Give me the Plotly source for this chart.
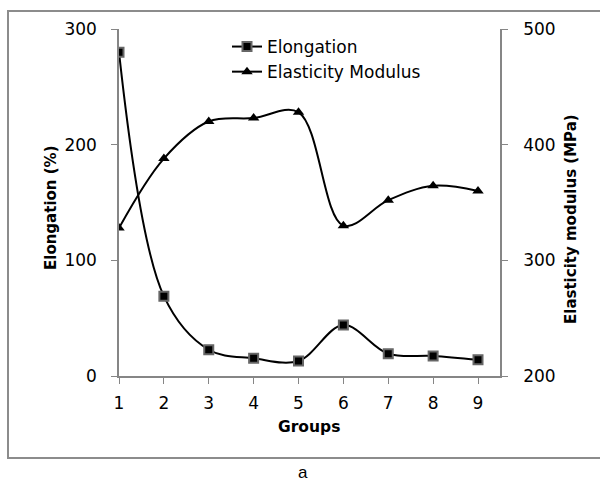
import plotly.graph_objects as go

groups = [1, 2, 3, 4, 5, 6, 7, 8, 9]
elongation = [280, 69, 22.7, 15.3, 13, 44, 19.3, 17.3, 14]
modulus = [328, 388, 420, 423, 428, 330, 352, 364.5, 360]
y1_ticks = [0, 100, 200, 300]
y2_ticks = [200, 300, 400, 500]

FONT = "DejaVu Sans"
AX = "#868686"

fig = go.Figure()
fig.add_trace(go.Scatter(
    x=groups, y=elongation, name="Elongation", mode="lines+markers",
    line=dict(color="black", width=2, shape="spline", smoothing=1),
    marker=dict(symbol="square", size=9, color="black",
                line=dict(color="#666666", width=2)),
    legendgroup="a"))
fig.add_trace(go.Scatter(
    x=groups, y=modulus, name="Elasticity Modulus", mode="lines+markers",
    yaxis="y2",
    line=dict(color="black", width=2, shape="spline", smoothing=1),
    marker=dict(symbol="triangle-up", size=10, color="black"),
    legendgroup="b"))

fig.update_layout(
    width=600, height=481,
    margin=dict(l=119, r=100, t=29, b=105),
    paper_bgcolor="white", plot_bgcolor="white",
    font=dict(family=FONT, size=16, color="black"),
    showlegend=True,
    legend=dict(x=(227 - 119) / 381, y=1.0, xanchor="left", yanchor="top",
                bgcolor="rgba(0,0,0,0)", font=dict(size=17),
                tracegroupgap=0, traceorder="grouped"),
    xaxis=dict(range=[1, 9.49], tickvals=groups, showline=True,
               linecolor=AX, linewidth=1.5, ticks="outside", ticklen=6,
               tickcolor=AX, showgrid=False, zeroline=False,
               ticklabelstandoff=5, tickfont=dict(size=17)),
    yaxis=dict(range=[0, 300], tickvals=y1_ticks, showline=True,
               linecolor=AX, linewidth=1.5, ticks="outside", ticklen=6,
               tickcolor=AX, showgrid=False, zeroline=False,
               ticklabelstandoff=11, tickfont=dict(size=17)),
    yaxis2=dict(range=[200, 500], tickvals=y2_ticks, overlaying="y",
                side="right", showline=True, linecolor=AX, linewidth=1.5,
                ticks="outside", ticklen=6, tickcolor=AX, showgrid=False,
                zeroline=False, ticklabelstandoff=12, tickfont=dict(size=17)),
)

fig.add_shape(type="rect", xref="paper", yref="paper",
              x0=(8 - 119) / 381, x1=(603 - 119) / 381,
              y0=(376 - 458) / 347, y1=(376 - 11) / 347,
              line=dict(color="#8c8c8c", width=2))

fig.add_annotation(text="<b>Elongation (%)</b>", textangle=-90,
                   xref="paper", yref="paper",
                   x=(40 - 119) / 381, y=(376 - 208) / 347,
                   showarrow=False, font=dict(size=15))
fig.add_annotation(text="<b>Elasticity modulus (MPa)</b>", textangle=-90,
                   xref="paper", yref="paper",
                   x=(582 - 119) / 381, y=(376 - 219) / 347,
                   showarrow=False, font=dict(size=15))
fig.add_annotation(text="<b>Groups</b>", xref="paper", yref="paper",
                   x=(309 - 119) / 381, y=(376 - 438) / 347,
                   showarrow=False, font=dict(size=15.5))
fig.add_annotation(text="a", xref="paper", yref="paper",
                   x=(303 - 119) / 381, y=(376 - 484) / 347,
                   yanchor="bottom", showarrow=False,
                   font=dict(family="Liberation Sans", size=17))

fig.write_html("out.html")
